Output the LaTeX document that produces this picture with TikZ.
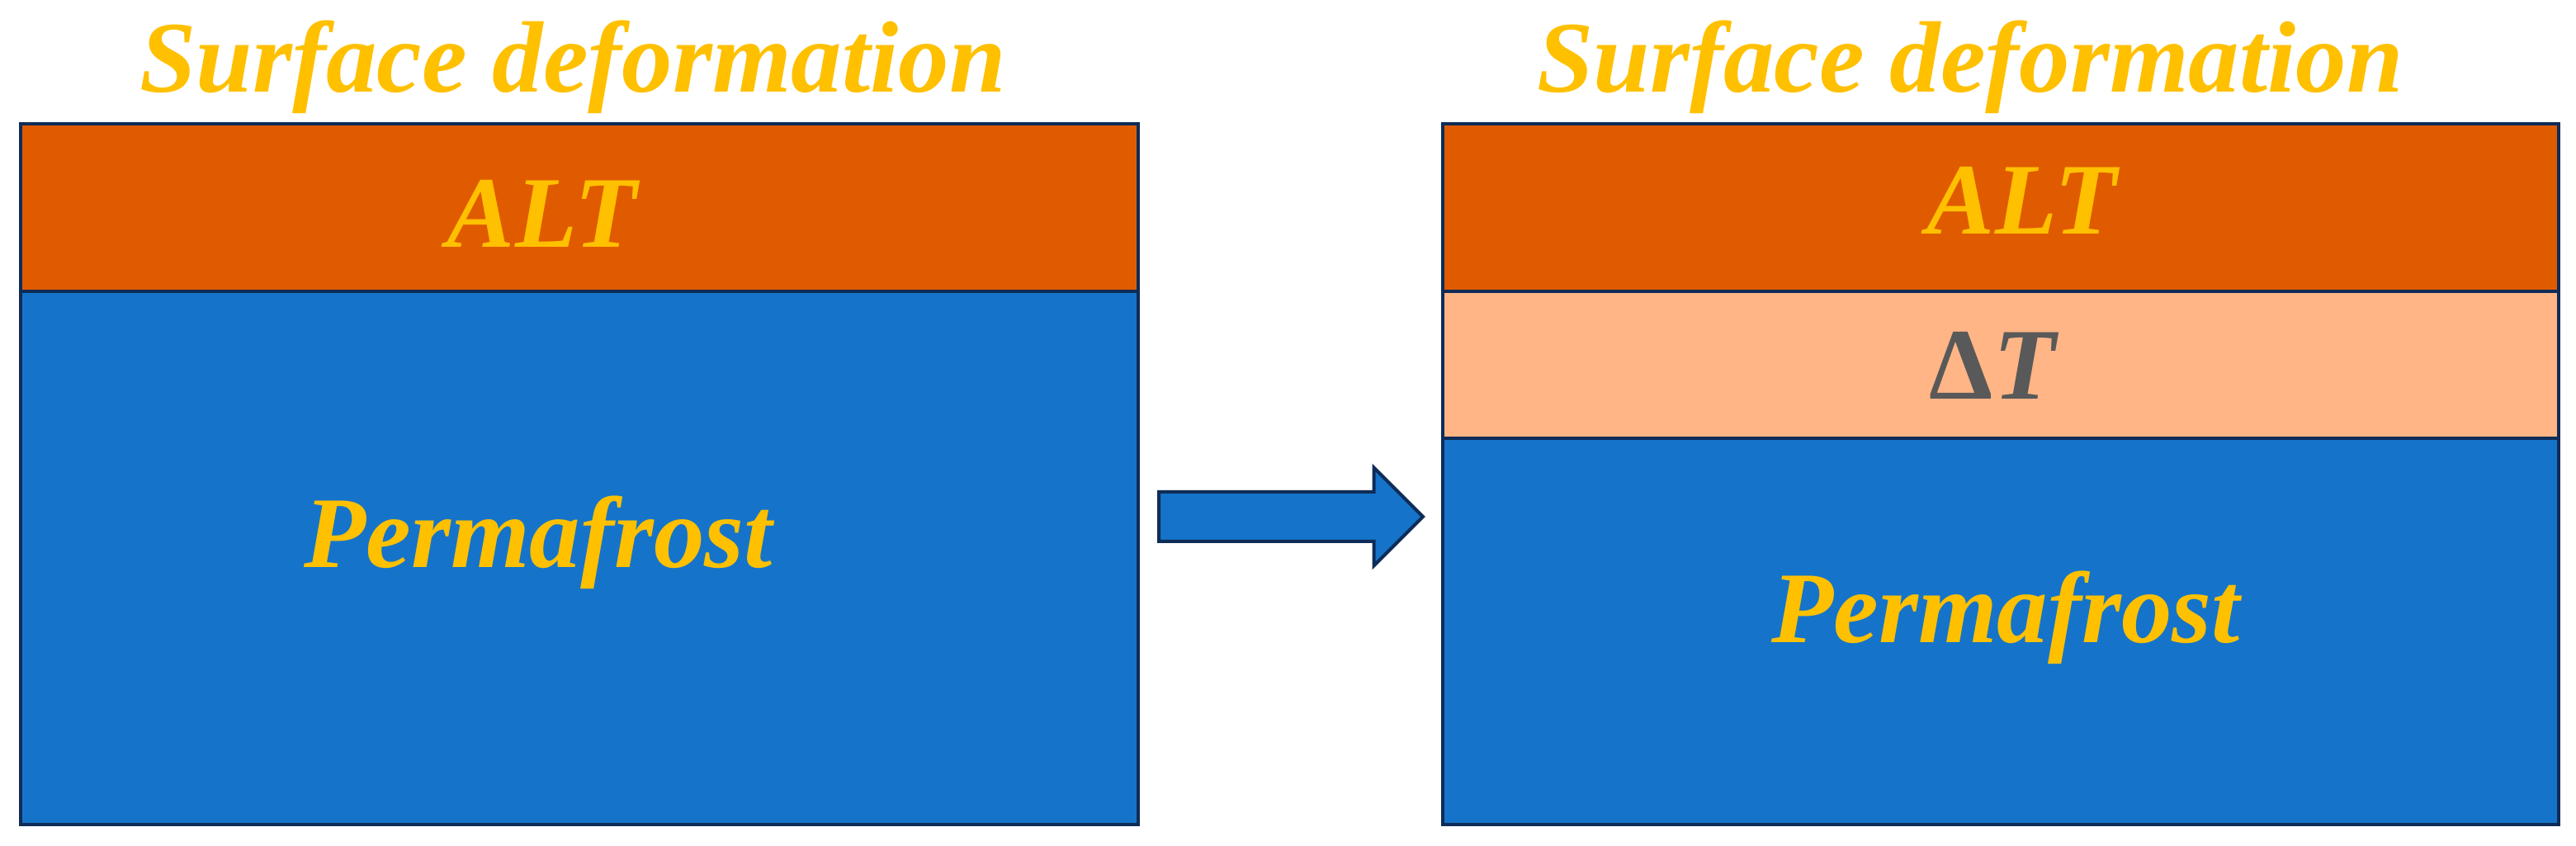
\documentclass[tikz,border=0pt]{standalone}
\usepackage{fontspec}
\setmainfont{Liberation Serif}
\usepackage{tikz}
\usetikzlibrary{shapes.arrows}
\definecolor{altorange}{HTML}{E05B00}
\definecolor{deltapeach}{HTML}{FFB586}
\definecolor{frostblue}{HTML}{1574C9}
\definecolor{labelgold}{HTML}{FFC000}
\definecolor{deltagray}{HTML}{595959}
\definecolor{edgenavy}{HTML}{0E2C57}
\tikzstyle{layer} = [rectangle, draw=edgenavy, line width=0.04cm, inner sep=0pt, outer sep=0pt]
\tikzstyle{label} = [anchor=base, inner sep=0pt, text=labelgold, font=\fontsize{35}{42}\selectfont\bfseries\itshape]
\tikzstyle{bigarrow} = [single arrow, draw=edgenavy, fill=frostblue, line width=0.04cm, inner sep=0.28cm, minimum height=3.2cm, single arrow head extend=0.295cm]

\begin{document}
\begin{tikzpicture}
    \useasboundingbox (0,0) rectangle (31.21,10.25);

        % layers before
        \node (alt_before) [layer, fill=altorange, minimum width=13.54cm, minimum height=2.03cm] at (7.02,7.735) {};
        \node (frost_before) [layer, fill=frostblue, minimum width=13.54cm, minimum height=6.46cm] at (7.02,3.49) {};

        % layers after
        \node (alt_after) [layer, fill=altorange, minimum width=13.52cm, minimum height=2.03cm] at (24.24,7.735) {};
        \node (delta_after) [layer, fill=deltapeach, minimum width=13.52cm, minimum height=1.78cm] at (24.24,5.83) {};
        \node (frost_after) [layer, fill=frostblue, minimum width=13.52cm, minimum height=4.68cm] at (24.24,2.60) {};

        % labels
        \node (surf_before) [label] at (6.94,9.13) {Surface deformation};
        \node (surf_after) [label] at (23.87,9.13) {Surface deformation};
        \node (alt_before_text) [label] at (6.57,7.25) {ALT};
        \node (alt_after_text) [label] at (24.50,7.41) {ALT};
        \node (delta_text) [label, text=deltagray] at (24.14,5.41) {{\upshape Δ}T};
        \node (frost_before_text) [label] at (6.52,3.37) {Permafrost};
        \node (frost_after_text) [label] at (24.30,2.46) {Permafrost};

        % arrow
        \node (change) [bigarrow] at (15.49,3.99) {};

    \end{tikzpicture}
\end{document}
